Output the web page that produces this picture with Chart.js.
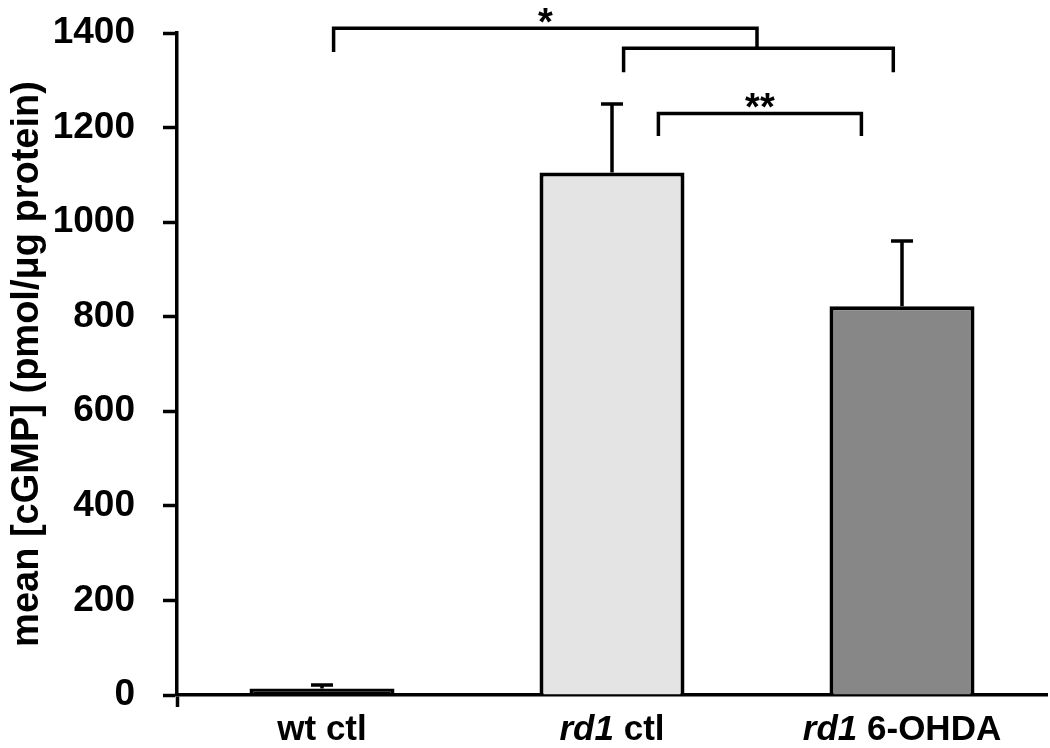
<!DOCTYPE html>
<html lang="en">
<head>
  <meta charset="UTF-8">
  <title>cGMP</title>
  <script src="https://cdn.jsdelivr.net/npm/chart.js"></script>
  <style>
    body { margin: 0; background: #fff; }
  </style>
</head>
<body>
  <canvas id="chart" width="1050" height="748"></canvas>

  <script>
    const categories = ['wt ctl', 'rd1 ctl', 'rd1 6-OHDA'];
    const means = [14, 1105, 822];
    const errors = [7, 145, 138];
    const yTicks = [0, 200, 400, 600, 800, 1000, 1200, 1400];
    // label parts: [text, italic]
    const labelParts = [
      [['wt ctl', false]],
      [['rd1', true], [' ctl', false]],
      [['rd1', true], [' 6-OHDA', false]]
    ];
    // significance brackets, in category index / data units
    const brackets = [
      { from: 0.04, to: 1.5, y: 1410, leftEnd: 1360, rightEnd: 1368, label: '*' },
      { from: 1.04, to: 1.97, y: 1368, leftEnd: 1317, rightEnd: 1317, label: '' },
      { from: 1.16, to: 1.86, y: 1230, leftEnd: 1182, rightEnd: 1182, label: '**' }
    ];

    const FONT = '"Liberation Sans", Arial, sans-serif';

    const errorBars = {
      id: 'errorBars',
      afterDatasetsDraw(chart) {
        const ctx = chart.ctx;
        const y = chart.scales.y;
        const meta = chart.getDatasetMeta(0);
        ctx.save();
        ctx.strokeStyle = '#000';
        ctx.lineWidth = 3.5;
        meta.data.forEach((bar, i) => {
          const top = y.getPixelForValue(means[i] + errors[i]);
          ctx.beginPath();
          ctx.moveTo(bar.x, bar.y);
          ctx.lineTo(bar.x, top);
          ctx.moveTo(bar.x - 11, top);
          ctx.lineTo(bar.x + 11, top);
          ctx.stroke();
        });
        ctx.restore();
      }
    };

    const extras = {
      id: 'extras',
      afterDraw(chart) {
        const ctx = chart.ctx;
        const x = chart.scales.x;
        const y = chart.scales.y;
        ctx.save();
        ctx.strokeStyle = '#000';
        ctx.fillStyle = '#000';
        ctx.lineWidth = 3.5;
        brackets.forEach(b => {
          const x1 = x.getPixelForValue(b.from);
          const x2 = x.getPixelForValue(b.to);
          const yy = y.getPixelForValue(b.y);
          ctx.beginPath();
          ctx.moveTo(x1, y.getPixelForValue(b.leftEnd));
          ctx.lineTo(x1, yy);
          ctx.lineTo(x2, yy);
          ctx.lineTo(x2, y.getPixelForValue(b.rightEnd));
          ctx.stroke();
          if (b.label) {
            ctx.font = 'bold 38px ' + FONT;
            ctx.textAlign = 'center';
            ctx.textBaseline = 'alphabetic';
            ctx.fillText(b.label, (x1 + x2) / 2, yy + 7);
          }
        });

        // x labels with italic gene names
        ctx.textBaseline = 'alphabetic';
        ctx.textAlign = 'left';
        labelParts.forEach((parts, i) => {
          const cx = x.getPixelForValue(i);
          let w = 0;
          parts.forEach(p => {
            ctx.font = (p[1] ? 'italic ' : '') + 'bold 35px ' + FONT;
            w += ctx.measureText(p[0]).width;
          });
          let px = cx - w / 2;
          parts.forEach(p => {
            ctx.font = (p[1] ? 'italic ' : '') + 'bold 35px ' + FONT;
            ctx.fillText(p[0], px, 740);
            px += ctx.measureText(p[0]).width;
          });
        });
        ctx.restore();
      }
    };

    new Chart(document.getElementById('chart'), {
      type: 'bar',
      data: {
        labels: categories,
        datasets: [{
          data: means,
          backgroundColor: ['#000000', '#e4e4e4', '#878787'],
          borderColor: '#000',
          borderWidth: 4,
          borderSkipped: 'bottom',
          barPercentage: 0.5,
          categoryPercentage: 1
        }]
      },
      options: {
        responsive: false,
        animation: false,
        layout: { padding: { top: 0, right: 3, left: 0, bottom: 0 } },
        plugins: { legend: { display: false }, tooltip: { enabled: false } },
        scales: {
          x: {
            offset: true,
            afterFit: s => { s.height = 53; },
            border: { color: '#000', width: 3.5 },
            grid: {
              offset: true,
              drawOnChartArea: false,
              tickLength: 12,
              tickWidth: 3.5,
              tickColor: ctx => (ctx.index === 0 || ctx.index === categories.length) ? '#000' : 'rgba(0,0,0,0)'
            },
            ticks: {
              color: 'rgba(0,0,0,0)',
              font: { family: FONT, size: 20, weight: 'bold' },
              padding: 2,
              maxRotation: 0
            }
          },
          y: {
            min: 0,
            max: 1400,
            afterBuildTicks: s => { s.ticks = yTicks.map(v => ({ value: v })); },
            afterFit: s => { s.width = 177; s.paddingTop = 33; },
            border: { color: '#000', width: 3.5 },
            grid: {
              drawOnChartArea: false,
              tickLength: 14,
              tickWidth: 3.5,
              color: '#000'
            },
            ticks: {
              color: '#000',
              font: { family: FONT, size: 37, weight: 'bold' },
              padding: 28,
              callback: v => String(v)
            },
            title: {
              display: true,
              text: 'mean [cGMP] (pmol/\u03bcg protein)',
              color: '#000',
              font: { family: FONT, size: 38, weight: 'bold' },
              padding: { top: 5, bottom: 0 }
            }
          }
        }
      },
      plugins: [errorBars, extras]
    });
  </script>
</body>
</html>
